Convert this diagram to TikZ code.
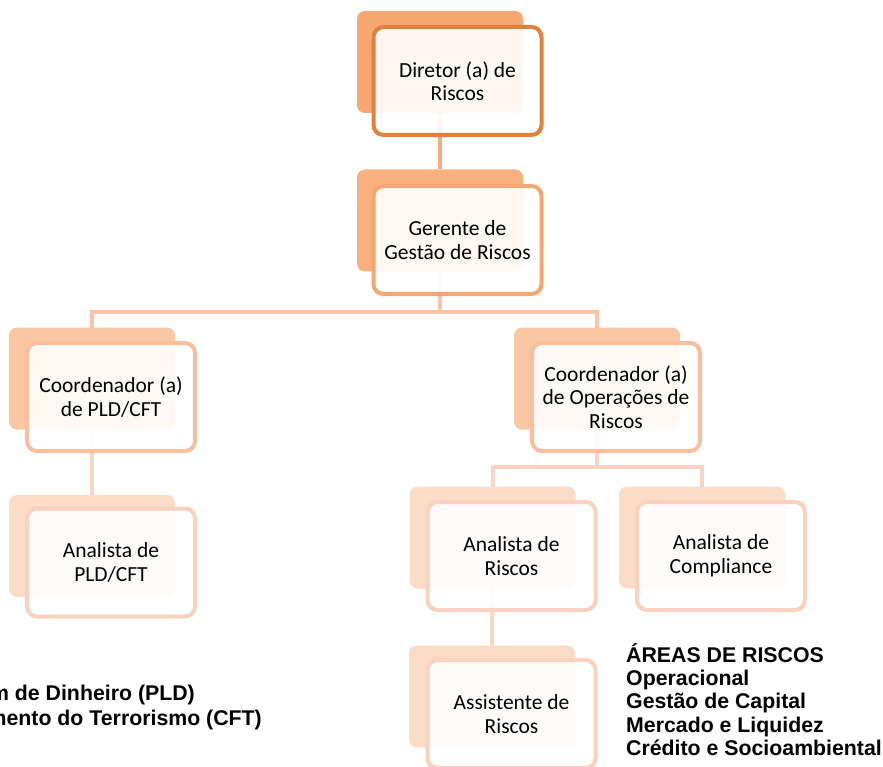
\documentclass[tikz,border=0pt]{standalone}
\usepackage{fontspec}
\setmainfont{Carlito}
\newfontfamily\arialb{Liberation Sans}[BoldFont={Liberation Sans Bold}]
\definecolor{cAback}{HTML}{F5A872}
\definecolor{cAline}{HTML}{E0823F}
\definecolor{cBback}{HTML}{F7B17E}
\definecolor{cBline}{HTML}{F6A672}
\definecolor{cBconn}{HTML}{F6AD7E}
\definecolor{cCback}{HTML}{F9C7A3}
\definecolor{cCline}{HTML}{F8BE9E}
\definecolor{cCconn}{HTML}{F9C5A6}
\definecolor{cDback}{HTML}{FBDCC6}
\definecolor{cDline}{HTML}{F9D1BD}
\definecolor{cDconn}{HTML}{F9D4C2}
\begin{document}
\begin{tikzpicture}[x=1pt,y=-1pt,
  backbox/.style={rectangle,rounded corners=8pt,fill=#1,draw=none,minimum width=166pt,minimum height=102pt,inner sep=0pt,outer sep=0pt},
  frontbox/.style={rectangle,rounded corners=10pt,fill=white,fill opacity=0.9,text opacity=1,draw=#1,line width=4pt,minimum width=168pt,minimum height=108pt,inner sep=0pt,outer sep=0pt,align=center,font=\fontsize{21.5}{23.5}\selectfont},
  conn/.style={draw=#1,line width=4pt},
  boldtxt/.style={font=\arialb\bfseries\fontsize{21.3}{23.3}\selectfont,inner sep=0pt,align=left}
]
\useasboundingbox (0,0) rectangle (883,767);
\clip (0,0) rectangle (883,767);
% back boxes
\node[backbox=cAback] (db) at (440,62) {};
\node[backbox=cBback] (gb) at (440,220.5) {};
\node[backbox=cCback] (cpb) at (92,378.5) {};
\node[backbox=cCback] (cob) at (597,378.5) {};
\node[backbox=cDback] (apb) at (92,546) {};
\node[backbox=cDback] (arb) at (492.5,537.5) {};
\node[backbox=cDback] (acb) at (702,537.5) {};
\node[backbox=cDback] (asb) at (492,696.5) {};
% connectors
\coordinate (bus1) at (440,312);
\coordinate (bus2) at (597,467);
\draw[conn=cBconn] (db.south) -- (gb.north);
\draw[conn=cCconn] (gb.south) -- (bus1);
\draw[conn=cCconn] (cpb.north) |- (bus1) -| (cob.north);
\draw[conn=cDconn] (cpb.south) -- (apb.north);
\draw[conn=cDconn] (cob.south) -- (bus2);
\draw[conn=cDconn] (arb.north) |- (bus2) -| (acb.north);
\draw[conn=cDconn] (arb.south) -- (asb.north);
% front boxes
\node[frontbox=cAline] (d) at (457.5,81) {Diretor (a) de\\Riscos};
\node[frontbox=cBline] (g) at (457.5,240) {Gerente de\\Gestão de Riscos};
\node[frontbox=cCline] (cp) at (111,397) {Coordenador (a)\\de PLD/CFT};
\node[frontbox=cCline] (co) at (616,397) {Coordenador (a)\\de Operações de\\Riscos};
\node[frontbox=cDline] (ap) at (111,562.5) {Analista de\\PLD/CFT};
\node[frontbox=cDline] (ar) at (511.5,556) {Analista de\\Riscos};
\node[frontbox=cDline] (ac) at (721,556) {Analista de\\Compliance};
\node[frontbox=cDline] (as) at (511.5,714) {Assistente de\\Riscos};
% texts
\node[boldtxt,anchor=base west] (areas) at (626,755.5) {ÁREAS DE RISCOS\\Operacional\\Gestão de Capital\\Mercado e Liquidez\\Crédito e Socioambiental};
\node[boldtxt,anchor=base east] (pld) at (195,700.5) {m de Dinheiro (PLD)};
\node[boldtxt,anchor=base east] (cft) at (262,725) {mento do Terrorismo (CFT)};
\end{tikzpicture}
\end{document}
